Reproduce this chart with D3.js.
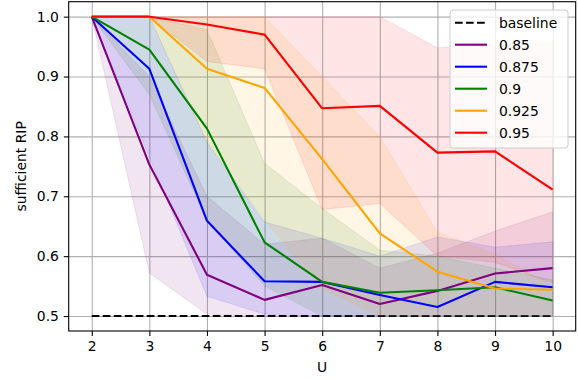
<!DOCTYPE html>
<html>
<head>
<meta charset="utf-8">
<script src="https://cdn.jsdelivr.net/npm/d3@7"></script>
<style>
  body { margin: 0; background: #fff; }
  svg { font-family: "DejaVu Sans", sans-serif; }
</style>
</head>
<body>
<svg id="chart" width="578" height="379"></svg>
<script>
// U values on the x axis
const uValues = [2, 3, 4, 5, 6, 7, 8, 9, 10];
const yTicks = [0.5, 0.6, 0.7, 0.8, 0.9, 1.0];
const baseline = 0.5;

const seriesNames = ['0.85', '0.875', '0.9', '0.925', '0.95'];
const seriesColors = ['purple', 'blue', 'green', 'orange', 'red'];

// mean lines
const mean085 = [1.0, 0.753, 0.569, 0.527, 0.552, 0.520, 0.542, 0.571, 0.580];
const mean0875 = [1.0, 0.913, 0.659, 0.558, 0.557, 0.535, 0.515, 0.557, 0.548];
const mean09 = [1.0, 0.945, 0.813, 0.623, 0.557, 0.539, 0.543, 0.548, 0.526];
const mean0925 = [1.0, 1.0, 0.913, 0.881, 0.762, 0.638, 0.574, 0.546, 0.544];
const mean095 = [1.0, 1.0, 0.987, 0.970, 0.847, 0.851, 0.773, 0.775, 0.711];

// shaded bands (lower / upper)
const low085 = [1.0, 0.572, 0.503, 0.50, 0.50, 0.50, 0.50, 0.50, 0.50];
const up085 = [1.0, 0.90, 0.70, 0.62, 0.63, 0.58, 0.605, 0.642, 0.674];
const low0875 = [1.0, 0.765, 0.533, 0.503, 0.50, 0.50, 0.50, 0.50, 0.50];
const up0875 = [1.0, 1.0, 0.79, 0.657, 0.63, 0.60, 0.632, 0.615, 0.624];
const low09 = [1.0, 0.87, 0.66, 0.55, 0.50, 0.50, 0.50, 0.50, 0.50];
const up09 = [1.0, 1.0, 0.978, 0.755, 0.68, 0.61, 0.60, 0.58, 0.56];
const low0925 = [1.0, 1.0, 0.79, 0.66, 0.545, 0.50, 0.50, 0.50, 0.50];
const up0925 = [1.0, 1.0, 1.0, 1.0, 0.90, 0.80, 0.64, 0.603, 0.55];
const low095 = [1.0, 1.0, 0.925, 0.913, 0.678, 0.688, 0.60, 0.59, 0.555];
const up095 = [1.0, 1.0, 1.0, 1.0, 1.0, 1.0, 0.948, 0.952, 0.958];

const means = [mean085, mean0875, mean09, mean0925, mean095];
const lows = [low085, low0875, low09, low0925, low095];
const ups = [up085, up0875, up09, up0925, up095];

const WIDTH = 578, HEIGHT = 379;
const MARGIN = { LEFT: 68.7, RIGHT: 2.3, TOP: 1.7, BOTTOM: 48 };
const INNER_WIDTH = WIDTH - MARGIN.LEFT - MARGIN.RIGHT;
const INNER_HEIGHT = HEIGHT - MARGIN.TOP - MARGIN.BOTTOM;

const svg = d3.select('#chart');

const xScale = d3.scaleLinear().domain([1.6, 10.4]).range([0, INNER_WIDTH]);
const yScale = d3.scaleLinear().domain([0.475, 1.025]).range([INNER_HEIGHT, 0]);

const chart = svg.append('g')
    .attr('transform', `translate(${MARGIN.LEFT}, ${MARGIN.TOP})`);

// grid
chart.append('g')
    .attr('class', 'grid')
    .attr('transform', `translate(0, ${INNER_HEIGHT})`)
    .call(d3.axisBottom(xScale).tickValues(uValues).tickSize(-INNER_HEIGHT).tickFormat(''))
    .call(g => g.select('.domain').remove());
chart.append('g')
    .attr('class', 'grid')
    .call(d3.axisLeft(yScale).tickValues(yTicks).tickSize(-INNER_WIDTH).tickFormat(''))
    .call(g => g.select('.domain').remove());
chart.selectAll('.grid line')
    .attr('stroke', '#b0b0b0')
    .attr('stroke-width', 1.1);

const clipId = 'plot-clip';
chart.append('clipPath').attr('id', clipId)
    .append('rect').attr('width', INNER_WIDTH).attr('height', INNER_HEIGHT);

const plot = chart.append('g').attr('clip-path', `url(#${clipId})`);

const line = d3.line()
    .x((d, i) => xScale(uValues[i]))
    .y(d => yScale(d));

const area = d3.area()
    .x((d, i) => xScale(uValues[i]))
    .y0(d => yScale(d[0]))
    .y1(d => yScale(d[1]));

// baseline
plot.append('path')
    .attr('d', line(uValues.map(() => baseline)))
    .attr('fill', 'none')
    .attr('stroke', 'black')
    .attr('stroke-width', 2.1)
    .attr('stroke-dasharray', '7.7,3.3');

// bands
seriesNames.forEach((name, s) => {
    const band = lows[s].map((lo, i) => [lo, ups[s][i]]);
    plot.append('path')
        .attr('d', area(band))
        .attr('fill', seriesColors[s])
        .attr('fill-opacity', 0.1)
        .attr('stroke', seriesColors[s])
        .attr('stroke-opacity', 0.1)
        .attr('stroke-width', 1);
});

// mean lines
seriesNames.forEach((name, s) => {
    plot.append('path')
        .attr('d', line(means[s]))
        .attr('fill', 'none')
        .attr('stroke', seriesColors[s])
        .attr('stroke-width', 2.1)
        .attr('stroke-linejoin', 'round');
});

// axes
const xAxis = chart.append('g')
    .attr('transform', `translate(0, ${INNER_HEIGHT})`)
    .call(d3.axisBottom(xScale).tickValues(uValues).tickSize(4.9).tickPadding(4.9).tickSizeOuter(0));
const yAxis = chart.append('g')
    .call(d3.axisLeft(yScale).tickValues(yTicks).tickSize(4.9).tickPadding(4.9).tickSizeOuter(0).tickFormat(d3.format('.1f')));

[xAxis, yAxis].forEach(ax => {
    ax.selectAll('text').attr('font-size', 13.9).attr('fill', 'black').attr('font-family', '"DejaVu Sans", sans-serif');
    ax.selectAll('line').attr('stroke', 'black').attr('stroke-width', 1.1);
    ax.select('.domain').remove();
});

// spines
chart.append('rect')
    .attr('width', INNER_WIDTH)
    .attr('height', INNER_HEIGHT)
    .attr('fill', 'none')
    .attr('stroke', 'black')
    .attr('stroke-width', 1.1);

// axis labels
chart.append('text')
    .attr('x', INNER_WIDTH / 2)
    .attr('y', INNER_HEIGHT + 41.5)
    .attr('text-anchor', 'middle')
    .attr('font-size', 13.9)
    .text('U');

chart.append('text')
    .attr('transform', `translate(${26 - MARGIN.LEFT}, ${INNER_HEIGHT / 2}) rotate(-90)`)
    .attr('text-anchor', 'middle')
    .attr('font-size', 13.9)
    .text('sufficient RIP');

// legend
const legendItems = [{ name: 'baseline', color: 'black', dash: true }]
    .concat(seriesNames.map((n, i) => ({ name: n, color: seriesColors[i], dash: false })));

const legend = svg.append('g').attr('transform', 'translate(450, 10)');
legend.append('rect')
    .attr('width', 118)
    .attr('height', 138)
    .attr('rx', 3)
    .attr('fill', 'white')
    .attr('fill-opacity', 0.8)
    .attr('stroke', '#cccccc')
    .attr('stroke-width', 1);

legendItems.forEach((item, i) => {
    const y = 12.7 + i * 22;
    legend.append('line')
        .attr('x1', 5).attr('x2', 37)
        .attr('y1', y).attr('y2', y)
        .attr('stroke', item.color)
        .attr('stroke-width', 2.1)
        .attr('stroke-dasharray', item.dash ? '7.7,3.3' : null);
    legend.append('text')
        .attr('x', 49)
        .attr('y', y + 5)
        .attr('font-size', 13.9)
        .text(item.name);
});
</script>
</body>
</html>
